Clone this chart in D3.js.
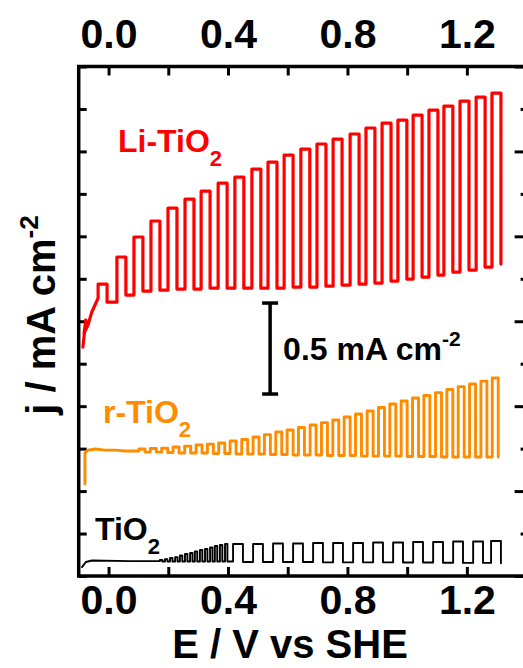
<!DOCTYPE html>
<html lang="en">
<head>
  <meta charset="UTF-8">
  <style>
    body { margin: 0; background: #fff; }
    svg { display: block; font-family: "Liberation Sans", Arial, sans-serif; font-weight: bold; }
    .frame { fill: none; stroke: #000; stroke-width: 3.5; }
    .ticks path { display: none; }
    .ticks line { stroke: #000; stroke-width: 3; }
    .trace { fill: none; stroke-linejoin: round; stroke-linecap: round; }
  </style>
</head>
<body>
  <svg id="chart" width="523" height="668"></svg>
  <script src="https://cdnjs.cloudflare.com/ajax/libs/d3/7.8.5/d3.min.js"></script>
  <script>
    // potential axis (V vs SHE)
    const xTickValues = [0, 0.2, 0.4, 0.6, 0.8, 1.0, 1.2]
    const xTickLabels = ['0.0', '', '0.4', '', '0.8', '', '1.2']

    // Li-TiO2 : chopped light, potentials of light on / off, currents (mA cm-2)
    const liPreE = [-0.086, -0.076, -0.082, -0.069, -0.056, -0.035]
    const liPreJ = [1.258, 1.407, 1.335, 1.379, 1.451, 1.527]
    const liOn = [-0.035, 0.028, 0.085, 0.142, 0.199, 0.256, 0.310, 0.367, 0.423, 0.480, 0.534, 0.588, 0.644, 0.698, 0.752, 0.809, 0.862, 0.916, 0.969, 1.020, 1.073, 1.123, 1.177, 1.231, 1.284]
    const liOff = [-0.005, 0.058, 0.115, 0.172, 0.229, 0.286, 0.340, 0.397, 0.453, 0.510, 0.564, 0.618, 0.674, 0.728, 0.782, 0.839, 0.892, 0.946, 0.999, 1.050, 1.103, 1.153, 1.207, 1.261, 1.314]
    const liLight = [1.604, 1.753, 1.863, 1.951, 2.022, 2.071, 2.115, 2.159, 2.192, 2.236, 2.275, 2.313, 2.346, 2.374, 2.401, 2.429, 2.462, 2.489, 2.505, 2.533, 2.560, 2.582, 2.610, 2.632, 2.654]
    const liDark = [1.505, 1.544, 1.566, 1.571, 1.577, 1.577, 1.582, 1.582, 1.582, 1.582, 1.582, 1.588, 1.588, 1.593, 1.599, 1.604, 1.610, 1.621, 1.632, 1.643, 1.654, 1.670, 1.681, 1.698, 1.714]

    // r-TiO2
    const rPreE = [-0.079, -0.079, -0.069, -0.045, -0.012, 0.022, 0.055, 0.102]
    const rPreJ = [0.505, 0.676, 0.692, 0.698, 0.692, 0.692, 0.687, 0.687]
    const rOn = [0.102, 0.140, 0.178, 0.216, 0.255, 0.293, 0.331, 0.369, 0.407, 0.446, 0.484, 0.522, 0.560, 0.598, 0.636, 0.675, 0.713, 0.751, 0.789, 0.827, 0.866, 0.904, 0.942, 0.980, 1.018, 1.056, 1.095, 1.133, 1.171, 1.209, 1.247, 1.285]
    const rOff = [0.122, 0.160, 0.198, 0.236, 0.275, 0.313, 0.351, 0.389, 0.427, 0.466, 0.504, 0.542, 0.580, 0.618, 0.656, 0.695, 0.733, 0.771, 0.809, 0.847, 0.886, 0.924, 0.962, 1.000, 1.038, 1.076, 1.115, 1.153, 1.191, 1.229, 1.267, 1.305]
    const rLight = [0.698, 0.701, 0.703, 0.709, 0.714, 0.720, 0.725, 0.731, 0.742, 0.750, 0.764, 0.777, 0.791, 0.802, 0.816, 0.830, 0.843, 0.857, 0.874, 0.890, 0.907, 0.926, 0.945, 0.962, 0.978, 0.992, 1.008, 1.025, 1.041, 1.055, 1.071, 1.088]
    const rDark = [0.681, 0.681, 0.679, 0.676, 0.676, 0.676, 0.673, 0.673, 0.670, 0.670, 0.670, 0.668, 0.668, 0.665, 0.665, 0.665, 0.662, 0.662, 0.662, 0.659, 0.659, 0.659, 0.659, 0.657, 0.657, 0.657, 0.654, 0.654, 0.654, 0.654, 0.654, 0.654]

    // TiO2
    const tPreE = [-0.089, -0.076, -0.055, 0.072, 0.172]
    const tPreJ = [0.049, 0.077, 0.085, 0.082, 0.082]
    const tOn = [0.172, 0.189, 0.206, 0.223, 0.239, 0.256, 0.273, 0.289, 0.306, 0.323, 0.340, 0.356, 0.373, 0.390, 0.417, 0.484, 0.551, 0.618, 0.685, 0.752, 0.819, 0.886, 0.953, 1.020, 1.087, 1.154, 1.221, 1.281]
    const tOff = [0.180, 0.197, 0.214, 0.231, 0.247, 0.264, 0.281, 0.297, 0.314, 0.331, 0.348, 0.364, 0.381, 0.398, 0.450, 0.517, 0.584, 0.651, 0.718, 0.785, 0.852, 0.919, 0.986, 1.053, 1.120, 1.187, 1.254, 1.314]
    const tLight = [0.088, 0.093, 0.099, 0.104, 0.113, 0.121, 0.126, 0.135, 0.143, 0.148, 0.157, 0.165, 0.170, 0.176, 0.176, 0.176, 0.179, 0.179, 0.181, 0.181, 0.181, 0.184, 0.184, 0.187, 0.187, 0.190, 0.190, 0.192]
    const tDark = [0.080, 0.080, 0.080, 0.080, 0.080, 0.080, 0.080, 0.080, 0.080, 0.080, 0.080, 0.080, 0.080, 0.080, 0.077, 0.077, 0.077, 0.077, 0.075, 0.075, 0.075, 0.075, 0.074, 0.074, 0.073, 0.072, 0.072, 0.070]

    // scale bar: 0.5 mA cm-2
    const barE = 0.541
    const barJ = [1.0, 1.5]

    const svg = d3.select('#chart')

    const x = d3.scaleLinear().domain([-0.1, 1.4]).range([78.7, 526.6])
    const y = d3.scaleLinear().domain([0, 2.8]).range([576, 66.5])
    const yTickValues = d3.range(13).map(k => k * 2.8 / 12)

    const line = d3.line()
      .x(d => x(d[0]))
      .y(d => y(d[1]))

    // build a chopped-light trace from the on/off edges
    function chopped(preE, preJ, on, off, light, dark) {
      const pts = preE.map((e, i) => [e, preJ[i]])
      on.forEach((e, i) => {
        if (i > 0) pts.push([e, dark[i - 1]])
        pts.push([e, light[i]], [off[i], light[i]], [off[i], dark[i]])
      })
      return pts
    }

    // Axes
    // ====
    const [x0, x1] = x.range()
    const [y0, y1] = y.range()

    const topAxis = svg.append('g')
        .attr('class', 'ticks')
        .attr('transform', `translate(0,${y1})`)
        .call(d3.axisTop(x).tickValues(xTickValues).tickSize(-9).tickFormat((d, i) => xTickLabels[i]))
    topAxis.selectAll('text')
        .attr('y', -19).attr('dy', null)
        .style('font-size', '41px').attr('fill', '#000')

    const bottomAxis = svg.append('g')
        .attr('class', 'ticks')
        .attr('transform', `translate(0,${y0})`)
        .call(d3.axisBottom(x).tickValues(xTickValues).tickSize(-9).tickFormat((d, i) => xTickLabels[i]))
    bottomAxis.selectAll('text')
        .attr('y', 38).attr('dy', null)
        .style('font-size', '41px').attr('fill', '#000')

    svg.append('g')
        .attr('class', 'ticks')
        .attr('transform', `translate(${x0},0)`)
        .call(d3.axisLeft(y).tickValues(yTickValues).tickSize(-8).tickFormat(''))

    svg.append('g')
        .attr('class', 'ticks')
        .attr('transform', `translate(${x1},0)`)
        .call(d3.axisRight(y).tickValues(yTickValues.filter((d, i) => i % 2 === 0)).tickSize(-12).tickFormat(''))
    svg.append('g')
        .attr('class', 'ticks')
        .attr('transform', `translate(${x1},0)`)
        .call(d3.axisRight(y).tickValues(yTickValues.filter((d, i) => i % 2 === 1)).tickSize(-6).tickFormat(''))

    svg.append('rect')
        .attr('class', 'frame')
        .attr('x', x0).attr('y', y1)
        .attr('width', x1 - x0).attr('height', y0 - y1)

    // Traces
    // ======
    const series = [
      { pts: chopped(tPreE, tPreJ, tOn, tOff, tLight, tDark), color: '#000000', w: 1.9 },
      { pts: chopped(rPreE, rPreJ, rOn, rOff, rLight, rDark), color: '#ff8c00', w: 2.9 },
      { pts: chopped(liPreE, liPreJ, liOn, liOff, liLight, liDark), color: '#ff0000', w: 3.2 },
    ]
    svg.append('g')
      .selectAll('path')
      .data(series)
      .enter().append('path')
        .attr('class', 'trace')
        .attr('d', d => line(d.pts))
        .attr('stroke', d => d.color)
        .attr('stroke-width', d => d.w)

    // scale bar
    const bar = svg.append('g').attr('stroke', '#000').attr('stroke-width', 3.5)
    bar.append('line')
        .attr('x1', x(barE)).attr('x2', x(barE))
        .attr('y1', y(barJ[0])).attr('y2', y(barJ[1]))
    barJ.forEach(j => {
      bar.append('line')
          .attr('x1', x(barE) - 8).attr('x2', x(barE) + 8)
          .attr('y1', y(j)).attr('y2', y(j))
    })
    const barText = svg.append('text')
        .attr('x', x(barE) + 13).attr('y', y(d3.mean(barJ)) + 11)
        .style('font-size', '32px')
    barText.append('tspan').text('0.5 mA cm')
    barText.append('tspan').attr('dy', -14).style('font-size', '21px').text('-2')

    // labels
    function label(txt, sub, lx, ly, color) {
      const t = svg.append('text').attr('x', lx).attr('y', ly).attr('fill', color).style('font-size', '32px')
      t.append('tspan').text(txt)
      t.append('tspan').attr('dy', 14).style('font-size', '22px').text(sub)
    }
    label('Li-TiO', '2', 118, 152, '#ff0000')
    label('r-TiO', '2', 103, 423, '#ff8c00')
    label('TiO', '2', 95, 540, '#000000')

    // axis titles
    svg.append('text')
        .attr('x', 290).attr('y', 658)
        .attr('text-anchor', 'middle')
        .style('font-size', '40px')
        .text('E / V vs SHE')

    const yTitle = svg.append('text')
        .attr('transform', 'translate(55,315) rotate(-90)')
        .attr('text-anchor', 'middle')
        .style('font-size', '40px')
    yTitle.append('tspan').text('j / mA cm')
    yTitle.append('tspan').attr('dy', -17).style('font-size', '26px').text('-2')
  </script>
</body>
</html>
